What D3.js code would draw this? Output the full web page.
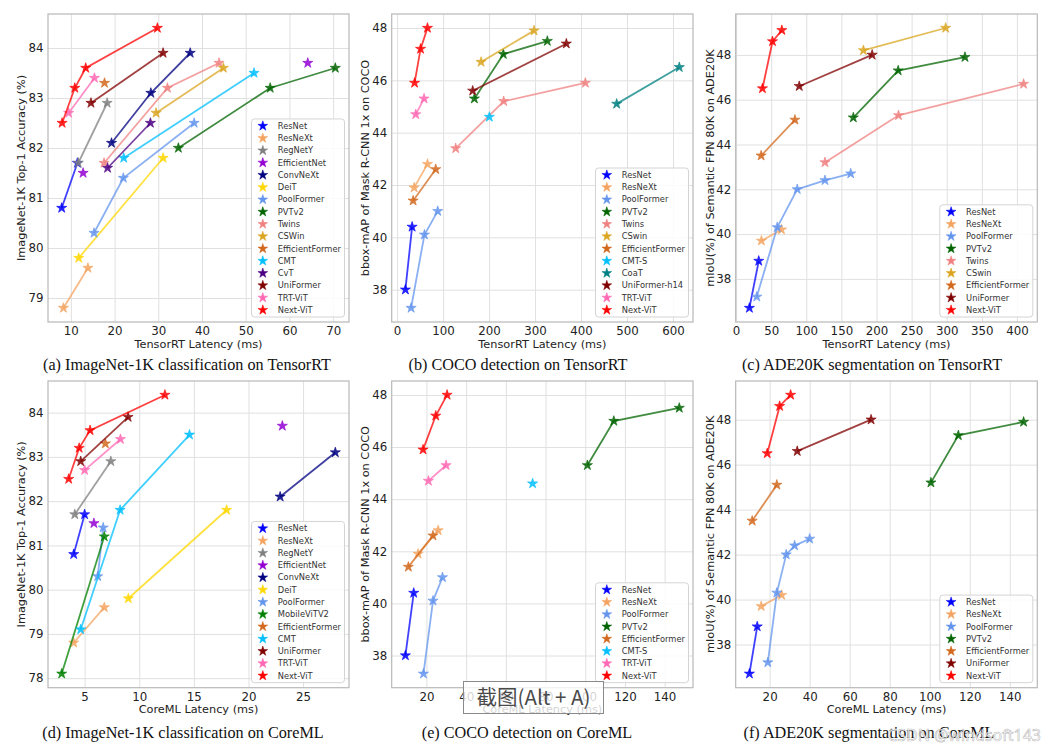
<!DOCTYPE html>
<html><head><meta charset="utf-8">
<script src="https://cdn.jsdelivr.net/npm/d3@7"></script>
<style>body{margin:0;background:#fff}svg{display:block}</style>
</head><body>
<svg id="c" width="1055" height="752"></svg>
<script>
// ---------- (a) ImageNet-1K on TensorRT ----------
const aSeries = ["ResNet","ResNeXt","RegNetY","EfficientNet","ConvNeXt","DeiT","PoolFormer","PVTv2","Twins","CSWin","EfficientFormer","CMT","CvT","UniFormer","TRT-ViT","Next-ViT"];
const aLatency = [[7.9,11.5],[8.3,13.9],[11.7,18.3],[12.8,64.2],[19.3,28.3,37.3],[11.8,31.1],[15.3,22.0,38.2],[34.6,55.6,70.5],[17.6,32.1,43.9],[29.5,44.9],[17.7],[22.1,51.9],[18.4,28.2],[14.6,31.1],[9.5,15.4],[8.0,10.9,13.4,29.8]];
const aAccuracy = [[80.8,81.7],[78.8,79.6],[81.7,82.9],[81.5,83.7],[82.1,83.1,83.9],[79.8,81.8],[80.3,81.4,82.5],[82.0,83.2,83.6],[81.7,83.2,83.7],[82.7,83.6],[83.3],[81.8,83.5],[81.6,82.5],[82.9,83.9],[82.7,83.4],[82.5,83.2,83.6,84.4]];
const aXTicks = [10,20,30,40,50,60,70];
const aYTicks = [79,80,81,82,83,84];

// ---------- (b) COCO on TensorRT ----------
const bSeries = ["ResNet","ResNeXt","PoolFormer","PVTv2","Twins","CSwin","EfficientFormer","CMT-S","CoaT","UniFormer-h14","TRT-ViT","Next-ViT"];
const bLatency = [[18,32.6],[37,66],[30.4,59.4,88.3],[168,231,326.7],[127.4,231.8,409.4],[182.6,297.8],[34.8,84],[200.6],[477.5,613.7],[164.4,368],[40.5,58.6],[38,51,66]];
const bMAP = [[38.0,40.4],[41.9,42.8],[37.3,40.1,41.0],[45.3,47.0,47.5],[43.4,45.2,45.9],[46.7,47.9],[41.4,42.6],[44.6],[45.1,46.5],[45.6,47.4],[44.7,45.3],[45.9,47.2,48.0]];
const bXTicks = [0,100,200,300,400,500,600];
const bYTicks = [38,40,42,44,46,48];

// ---------- (c) ADE20K on TensorRT ----------
const cSeries = ["ResNet","ResNeXt","PoolFormer","PVTv2","Twins","CSwin","EfficientFormer","UniFormer","Next-ViT"];
const cLatency = [[19,32.3],[36.1,64.7],[29.5,58.6,87.1,126.6,163.3],[167,230.9,326],[126.6,231.4,409.5],[181.4,298.5],[35.7,83.8],[90,193.8],[37.6,51.9,65.2]];
const cMIoU = [[36.7,38.8],[39.7,40.2],[37.2,40.3,42.0,42.4,42.7],[45.2,47.3,47.9],[43.2,45.3,46.7],[48.2,49.2],[43.5,45.1],[46.6,48.0],[46.5,48.6,49.1]];
const cXTicks = [0,50,100,150,200,250,300,350,400];
const cYTicks = [38,40,42,44,46,48];

// ---------- (d) ImageNet-1K on CoreML ----------
const dSeries = ["ResNet","ResNeXt","RegNetY","EfficientNet","ConvNeXt","DeiT","PoolFormer","MobileViTV2","EfficientFormer","CMT","UniFormer","TRT-ViT","Next-ViT"];
const dLatency = [[4.0,5.0],[4.0,6.8],[4.1,7.4],[5.85,23.1],[22.9,27.95],[9.0,18.0],[6.2,6.7],[2.9,6.8],[6.9],[4.64,8.25,14.6],[4.64,8.98],[5.0,8.28],[3.54,4.5,5.5,12.35]];
const dAccuracy = [[80.8,81.7],[78.8,79.6],[81.7,82.9],[81.5,83.7],[82.1,83.1],[79.8,81.8],[80.3,81.4],[78.1,81.2],[83.3],[79.1,81.8,83.5],[82.9,83.9],[82.7,83.4],[82.5,83.2,83.6,84.4]];
const dXTicks = [5,10,15,20,25];
const dYTicks = [78,79,80,81,82,83,84];

// ---------- (e) COCO on CoreML ----------
const eSeries = ["ResNet","ResNeXt","PoolFormer","PVTv2","EfficientFormer","CMT-S","TRT-ViT","Next-ViT"];
const eLatency = [[9.4,13.6],[15.8,25.9],[18.5,23.3,28.1],[101.1,114.4,147.4],[10.9,23.3],[73.5],[21,29.9],[18.3,24.7,30.4]];
const eMAP = [[38.0,40.4],[41.9,42.8],[37.3,40.1,41.0],[45.3,47.0,47.5],[41.4,42.6],[44.6],[44.7,45.3],[45.9,47.2,48.0]];
const eXTicks = [20,40,60,80,100,120,140];
const eYTicks = [38,40,42,44,46,48];

// ---------- (f) ADE20K on CoreML ----------
const fSeries = ["ResNet","ResNeXt","PoolFormer","PVTv2","EfficientFormer","UniFormer","Next-ViT"];
const fLatency = [[9.9,13.8],[15.8,26],[19.1,23.6,28.3,32.5,40],[100.6,114.3,146.9],[11.3,23.6],[33.8,70.7],[18.8,25,30.5]];
const fMIoU = [[36.7,38.8],[39.7,40.2],[37.2,40.3,42.0,42.4,42.7],[45.2,47.3,47.9],[43.5,45.1],[46.6,48.0],[46.5,48.6,49.1]];
const fXTicks = [20,40,60,80,100,120,140];
const fYTicks = [38,40,42,44,46,48];

// ---------- styles ----------
const colorOf = {
  "ResNet":"#0000ff","ResNeXt":"#f4a460","RegNetY":"#808080","EfficientNet":"#9400d3",
  "ConvNeXt":"#000080","DeiT":"#ffd700","PoolFormer":"#6495ed","PVTv2":"#006400",
  "MobileViTV2":"#008000","Twins":"#f08080","CSWin":"#daa520","CSwin":"#daa520",
  "EfficientFormer":"#d2691e","CMT":"#00bfff","CMT-S":"#00bfff","CvT":"#4b0082",
  "UniFormer":"#800000","UniFormer-h14":"#800000","TRT-ViT":"#ff69b4","Next-ViT":"#ff0000","CoaT":"#008080"
};
const unconnected = new Set(["EfficientNet"]);
const TR_X = "TensorRT Latency (ms)", CM_X = "CoreML Latency (ms)";
const Y1 = "ImageNet-1K Top-1 Accuracy (%)", Y2 = "bbox-mAP of Mask R-CNN 1x on COCO", Y3 = "mIoU(%) of Semantic FPN 80K on ADE20K";

const panels = [
  {s:aSeries,xs:aLatency,ys:aAccuracy,xt:aXTicks,yt:aYTicks,box:[48,14,349,322],xl:TR_X,yl:Y1,ylx:21,cap:"(a) ImageNet-1K classification on TensorRT",cx:187,cy:370},
  {s:bSeries,xs:bLatency,ys:bMAP,xt:bXTicks,yt:bYTicks,box:[391.7,14,693,322],xl:TR_X,yl:Y2,ylx:365,cap:"(b) COCO detection on TensorRT",cx:518,cy:370},
  {s:cSeries,xs:cLatency,ys:cMIoU,xt:cXTicks,yt:cYTicks,box:[735.7,14,1037.3,322],xl:TR_X,yl:Y3,ylx:710,cap:"(c) ADE20K segmentation on TensorRT",cx:872,cy:370},
  {s:dSeries,xs:dLatency,ys:dAccuracy,xt:dXTicks,yt:dYTicks,box:[48,381,349,687.7],xl:CM_X,yl:Y1,ylx:21,cap:"(d) ImageNet-1K classification on CoreML",cx:183,cy:738},
  {s:eSeries,xs:eLatency,ys:eMAP,xt:eXTicks,yt:eYTicks,box:[391.7,381,693,687.7],xl:CM_X,yl:Y2,ylx:365,cap:"(e) COCO detection on CoreML",cx:527,cy:738},
  {s:fSeries,xs:fLatency,ys:fMIoU,xt:fXTicks,yt:fYTicks,box:[735.7,381,1037.3,687.7],xl:CM_X,yl:Y3,ylx:710,cap:"(f) ADE20K segmentation on CoreML",cx:869,cy:738}
];

const svg = d3.select("#c");
const SANS = "DejaVu Sans, sans-serif";
const starPath = d3.symbol().type(d3.symbolStar).size(32)();
const starLeg = d3.symbol().type(d3.symbolStar).size(30)();
const pad = e => { const r = e[1]-e[0]; return [e[0]-0.05*r, e[1]+0.05*r]; };

panels.forEach(p => {
  const [L,T,R,B] = p.box;
  const x = d3.scaleLinear().domain(pad(d3.extent(p.xs.flat()))).range([L,R]);
  const y = d3.scaleLinear().domain(pad(d3.extent(p.ys.flat()))).range([B,T]);
  const g = svg.append("g");

  // grid
  g.append("g").attr("transform",`translate(0,${B})`)
    .call(d3.axisBottom(x).tickValues(p.xt).tickSize(-(B-T)).tickFormat(""))
    .call(s => { s.select(".domain").remove(); s.selectAll("line").attr("stroke","#e0e0e0").attr("stroke-width",1); });
  g.append("g").attr("transform",`translate(${L},0)`)
    .call(d3.axisLeft(y).tickValues(p.yt).tickSize(-(R-L)).tickFormat(""))
    .call(s => { s.select(".domain").remove(); s.selectAll("line").attr("stroke","#e0e0e0").attr("stroke-width",1); });

  // tick labels
  g.append("g").attr("transform",`translate(0,${B})`)
    .call(d3.axisBottom(x).tickValues(p.xt).tickSize(0).tickPadding(4.5).tickFormat(d3.format("d")))
    .call(s => { s.select(".domain").remove(); s.selectAll("text").attr("font-family",SANS).attr("font-size",11.8).attr("fill","#222"); });
  g.append("g").attr("transform",`translate(${L},0)`)
    .call(d3.axisLeft(y).tickValues(p.yt).tickSize(0).tickPadding(4.5).tickFormat(d3.format("d")))
    .call(s => { s.select(".domain").remove(); s.selectAll("text").attr("font-family",SANS).attr("font-size",11.8).attr("fill","#222"); });

  // frame
  g.append("rect").attr("x",L).attr("y",T).attr("width",R-L).attr("height",B-T)
    .attr("fill","none").attr("stroke","#b8b8b8").attr("stroke-width",1.2);

  // series
  const line = d3.line().x(d => x(d[0])).y(d => y(d[1]));
  p.s.forEach((name,i) => {
    const pts = p.xs[i].map((v,k) => [v, p.ys[i][k]]);
    const col = colorOf[name];
    if (pts.length > 1 && !unconnected.has(name)) {
      g.append("path").attr("d", line(pts)).attr("fill","none")
        .attr("stroke",col).attr("stroke-width",1.8).attr("stroke-opacity",0.75);
    }
    g.selectAll(null).data(pts).enter().append("path")
      .attr("d", starPath)
      .attr("transform", d => `translate(${x(d[0])},${y(d[1])})`)
      .attr("fill", col).attr("fill-opacity",0.85)
      .attr("stroke", col).attr("stroke-width",0.6);
  });

  // legend
  const n = p.s.length, lw = 93, step = 12.27, lh = (n-1)*step + 14;
  const lx = R - 4.5 - lw, ly = B - 5 - lh;
  g.append("rect").attr("x",lx).attr("y",ly).attr("width",lw).attr("height",lh).attr("rx",3)
    .attr("fill","#fff").attr("fill-opacity",0.85).attr("stroke","#d4d4d4").attr("stroke-width",1);
  p.s.forEach((name,i) => {
    const cy = ly + 7 + i*step;
    g.append("path").attr("d",starLeg).attr("transform",`translate(${lx+11.3},${cy})`)
      .attr("fill",colorOf[name]).attr("stroke",colorOf[name]).attr("stroke-width",0.5);
    g.append("text").attr("x",lx+26.3).attr("y",cy).attr("dy","0.35em")
      .attr("font-family",SANS).attr("font-size",8.3).attr("fill","#333").text(name);
  });

  // axis labels
  g.append("text").attr("x",(L+R)/2).attr("y",B+25.5).attr("text-anchor","middle")
    .attr("font-family",SANS).attr("font-size",11.3).attr("fill","#222").text(p.xl);
  g.append("text").attr("transform",`translate(${p.ylx},${(T+B)/2}) rotate(-90)`).attr("dy","0.35em")
    .attr("text-anchor","middle").attr("font-family",SANS).attr("font-size",11.3).attr("fill","#222").text(p.yl);

  // caption
  g.append("text").attr("x",p.cx).attr("y",p.cy).attr("text-anchor","middle")
    .attr("font-family","Liberation Serif, Times New Roman, serif").attr("font-size",16.2).attr("fill","#111").text(p.cap);
});

// screenshot tooltip overlay present in the reference
const tip = svg.append("g");
tip.append("rect").attr("x",463.5).attr("y",681.5).attr("width",140).attr("height",32)
  .attr("fill","#fff").attr("fill-opacity",0.8).attr("stroke","#8a8a8a").attr("stroke-width",1);
tip.append("text").attr("x",533.5).attr("y",698).attr("dy","0.35em").attr("text-anchor","middle")
  .attr("font-family","Noto Sans CJK SC, sans-serif").attr("font-size",20.5).attr("fill","#4a4a4a").text("截图(Alt + A)");

// watermark
svg.append("text").attr("x",1041).attr("y",741).attr("text-anchor","end")
  .attr("font-family","Noto Sans, sans-serif").attr("font-size",16)
  .attr("fill","#fff").attr("fill-opacity",0.85).attr("stroke","#9a9a9a").attr("stroke-width",0.6).attr("stroke-opacity",0.7)
  .text("CSDN @windsoft143");
</script>
</body></html>
